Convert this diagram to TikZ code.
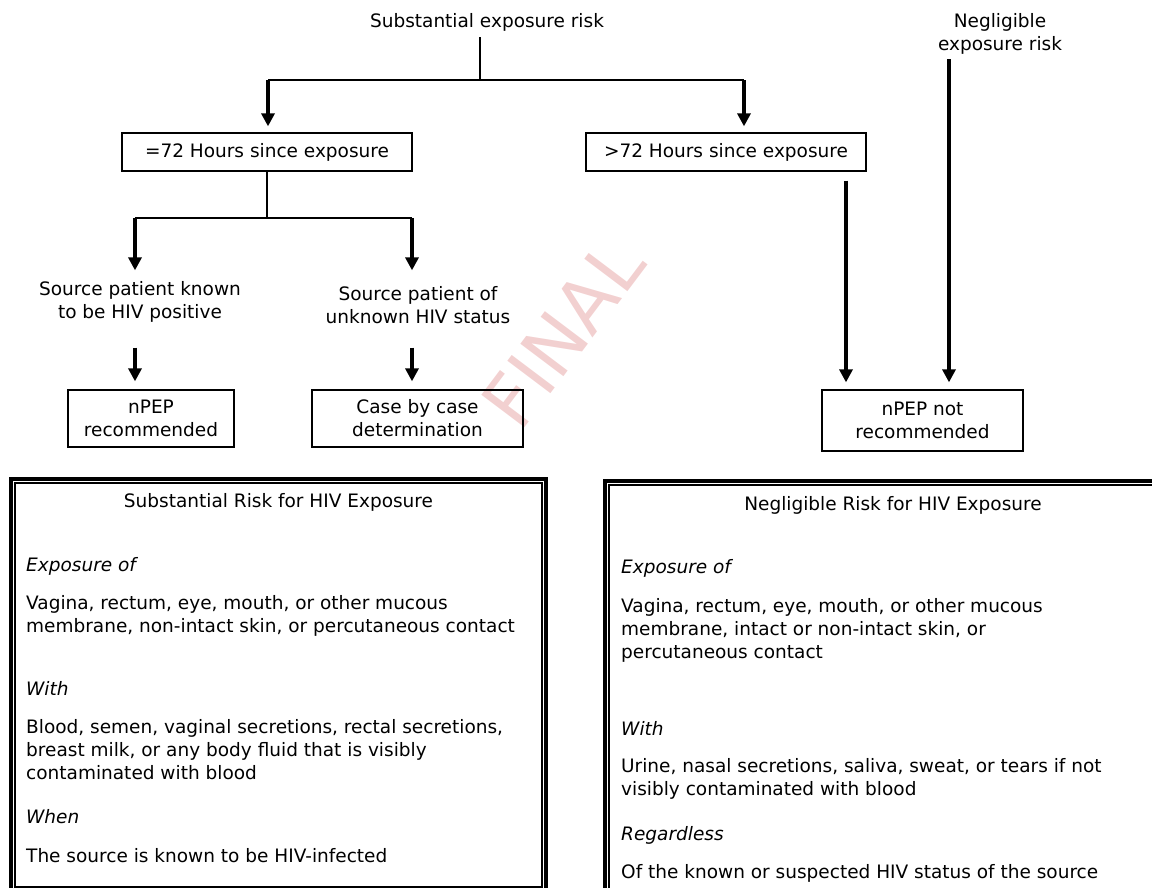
\documentclass[tikz,border=0pt]{standalone}
\usepackage{fontspec}
\setmainfont{DejaVu Sans}
\usetikzlibrary{arrows.meta}
\definecolor{wmpink}{RGB}{242,208,208}
\begin{document}
\begin{tikzpicture}[x=1pt,y=-1pt,
  txt/.style={font=\fontsize{18.5}{23}\selectfont, inner sep=0pt},
  lbl/.style={txt, align=center},
  box/.style={txt, draw, line width=1.3pt, align=center},
  conn/.style={line width=1.4pt},
  arr/.style={line width=3.2pt, -{Triangle[width=13pt,length=13pt]}},
  frameout/.style={draw, line width=4pt, inner sep=0pt},
  framein/.style={line width=1.5pt},
  ln/.style={txt, anchor=base west},
  hd/.style={txt, anchor=base west, font=\fontsize{18.5}{23}\selectfont\itshape},
  ttl/.style={txt, anchor=base},
]
\useasboundingbox (0,0) rectangle (1152,887);
\node[rotate=53, text=wmpink, font=\fontsize{74}{74}\selectfont, inner sep=0pt] (wm) at (563,333) {FINAL};

\node[lbl] (sub) at (487,22) {Substantial exposure risk};
\node[lbl] (neg) at (1000,33.5) {Negligible\\exposure risk};
\node[box, minimum width=290pt, minimum height=38pt] (lt) at (267,152) {=72 Hours since exposure};
\node[box, minimum width=280pt, minimum height=38pt] (gt) at (726,152) {>72 Hours since exposure};
\node[lbl] (pos) at (140,302) {Source patient known\\to be HIV positive};
\node[lbl] (unk) at (418,305) {Source patient of\\unknown HIV status};
\node[box, minimum width=166pt, minimum height=57pt] (rec) at (151,418.5) {nPEP\\recommended};
\node[box, minimum width=211pt, minimum height=57pt] (cbc) at (417.5,418.5) {Case by case\\determination};
\node[box, minimum width=201pt, minimum height=61pt] (nrec) at (922.5,420.5) {nPEP not\\recommended};

\coordinate (j0) at (480,80);
\coordinate (jL) at (268,80);
\coordinate (jR) at (744,80);
\draw[conn, shorten <=6pt] (sub.south -| j0) -- (j0);
\draw[conn] (jL) -- (jR);
\draw[arr, shorten >=6pt] (jL) -- (jL |- lt.north);
\draw[arr, shorten >=6pt] (jR) -- (jR |- gt.north);

\coordinate (k0) at (267,218);
\coordinate (kL) at (135,218);
\coordinate (kR) at (412,218);
\draw[conn] (lt.south) -- (k0);
\draw[conn] (kL) -- (kR);
\draw[arr, shorten >=11pt] (kL) -- (kL |- pos.north);
\draw[arr, shorten >=11pt] (kR) -- (kR |- pos.north);
\draw[arr, shorten <=25pt, shorten >=8pt] (pos.south -| kL) -- (rec.north -| kL);
\draw[arr, shorten <=25pt, shorten >=8pt] (pos.south -| kR) -- (cbc.north -| kR);

\coordinate (xa) at (846,180);
\coordinate (xb) at (949,59);
\draw[arr, shorten <=9pt, shorten >=7pt] (gt.south -| xa) -- (nrec.north -| xa);
\draw[arr, shorten <=5pt, shorten >=7pt] (neg.south -| xb) -- (nrec.north -| xb);

\node[frameout, minimum width=535pt, minimum height=412pt] (lbox) at (278.5,685) {};
\draw[framein] ([shift={(6,6)}]lbox.north west) rectangle ([shift={(-6,-6)}]lbox.south east);
\node[frameout, minimum width=557pt, minimum height=412pt] (rbox) at (883.5,687) {};
\draw[framein] ([shift={(6,6)}]rbox.north west) rectangle ([shift={(-6,-6)}]rbox.south east);

\node[ttl] (l0) at (278.5,507) {Substantial Risk for HIV Exposure};
\node[hd] (l1) at (26,571) {Exposure of};
\node[ln] (l2) at (26,609) {Vagina, rectum, eye, mouth, or other mucous};
\node[ln] (l3) at (26,632) {membrane, non-intact skin, or percutaneous contact};
\node[hd] (l4) at (26,695) {With};
\node[ln] (l5) at (26,733) {Blood, semen, vaginal secretions, rectal secretions,};
\node[ln] (l6) at (26,756) {breast milk, or any body fluid that is visibly};
\node[ln] (l7) at (26,779) {contaminated with blood};
\node[hd] (l8) at (26,823) {When};
\node[ln] (l9) at (26,862) {The source is known to be HIV-infected};

\node[ttl] (r0) at (893,510) {Negligible Risk for HIV Exposure};
\node[hd] (r1) at (621,573) {Exposure of};
\node[ln] (r2) at (621,612) {Vagina, rectum, eye, mouth, or other mucous};
\node[ln] (r3) at (621,635) {membrane, intact or non-intact skin, or};
\node[ln] (r4) at (621,658) {percutaneous contact};
\node[hd] (r5) at (621,735) {With};
\node[ln] (r6) at (621,772) {Urine, nasal secretions, saliva, sweat, or tears if not};
\node[ln] (r7) at (621,795) {visibly contaminated with blood};
\node[hd] (r8) at (621,840) {Regardless};
\node[ln] (r9) at (621,878) {Of the known or suspected HIV status of the source};
\end{tikzpicture}
\end{document}
